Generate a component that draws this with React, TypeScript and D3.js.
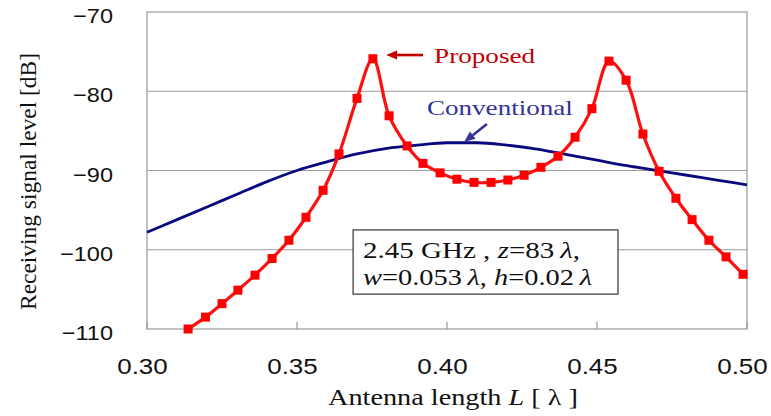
import React, { useRef, useEffect } from 'react';
import * as d3 from 'd3';

// Proposed antenna (red, square markers)
const proposedL = [
  0.3137, 0.3195, 0.325, 0.3303, 0.336, 0.3417, 0.3473, 0.353, 0.3587, 0.364,
  0.37, 0.3753, 0.3807, 0.3867, 0.392, 0.3977, 0.4033, 0.409, 0.4147, 0.4203,
  0.4257, 0.4313, 0.437, 0.4427, 0.4483, 0.454, 0.4597, 0.4653, 0.4707, 0.4763,
  0.4817, 0.4873, 0.493, 0.4987,
];
const proposedDb = [
  -110.0, -108.5, -106.8, -105.1, -103.2, -101.1, -98.8, -95.9, -92.5, -87.9,
  -80.9, -75.9, -83.1, -86.9, -89.1, -90.3, -91.1, -91.5, -91.5, -91.2,
  -90.6, -89.6, -88.2, -85.8, -82.2, -76.2, -78.6, -85.4, -90.1, -93.5,
  -96.2, -98.8, -100.9, -103.1,
];

// Conventional antenna (navy, smooth line)
const conventionalL = [
  0.3, 0.31, 0.32, 0.33, 0.34, 0.35, 0.36, 0.37, 0.38, 0.39, 0.4,
  0.41, 0.42, 0.43, 0.44, 0.45, 0.46, 0.47, 0.48, 0.49, 0.5,
];
const conventionalDb = [
  -97.8, -96.2, -94.6, -93.0, -91.4, -90.0, -88.9, -87.9, -87.2, -86.8, -86.5,
  -86.5, -86.8, -87.3, -88.0, -88.7, -89.4, -90.0, -90.6, -91.2, -91.8,
];

const xTicks = [0.3, 0.35, 0.4, 0.45, 0.5];
const yTicks = [-70, -80, -90, -100, -110];

const W = 771;
const H = 416;
const SERIF = '"Liberation Serif", "Times New Roman", serif';
const SANS = '"Liberation Sans", Arial, sans-serif';

// widen a text node to match the slightly stretched original
const stretch = (sel: any, k: number) => {
  sel.each(function (this: any) {
    const len = this.getComputedTextLength();
    d3.select(this).attr('textLength', len * k).attr('lengthAdjust', 'spacingAndGlyphs');
  });
};

const App = () => {
  const svgRef = useRef<SVGSVGElement>(null);

  useEffect(() => {
    if (!svgRef.current) return;
    const svg = d3.select(svgRef.current);
    svg.selectAll('*').remove();

    const x = d3.scaleLinear().domain([0.3, 0.5]).range([147, 747]);
    const y = d3.scaleLinear().domain([-110, -70]).range([329, 12]);

    svg.append('rect').attr('width', W).attr('height', H).attr('fill', '#fff');

    // grid lines
    svg.append('g')
      .selectAll('line')
      .data(yTicks.filter((t) => t !== -70 && t !== -110))
      .enter()
      .append('line')
      .attr('x1', x(0.3))
      .attr('x2', x(0.5))
      .attr('y1', (d) => y(d))
      .attr('y2', (d) => y(d))
      .attr('stroke', '#9a9a9a')
      .attr('stroke-width', 1.2);

    // plot frame
    svg.append('rect')
      .attr('x', x(0.3))
      .attr('y', y(-70))
      .attr('width', x(0.5) - x(0.3))
      .attr('height', y(-110) - y(-70))
      .attr('fill', 'none')
      .attr('stroke', '#9a9a9a')
      .attr('stroke-width', 1.2);

    // inner x ticks
    svg.append('g')
      .selectAll('line')
      .data(xTicks)
      .enter()
      .append('line')
      .attr('x1', (d) => x(d))
      .attr('x2', (d) => x(d))
      .attr('y1', y(-110))
      .attr('y2', y(-110) - 7)
      .attr('stroke', '#9a9a9a')
      .attr('stroke-width', 1.2);

    // tick labels
    svg.append('g')
      .selectAll('text')
      .data(xTicks)
      .enter()
      .append('text')
      .attr('x', (d) => x(d) - 4.5)
      .attr('y', 374)
      .attr('text-anchor', 'middle')
      .style('font-family', SANS)
      .style('font-size', '22px')
      .attr('fill', '#111')
      .text((d) => d3.format('.2f')(d))
      .call(stretch, 1.18);

    svg.append('g')
      .selectAll('text')
      .data(yTicks)
      .enter()
      .append('text')
      .attr('x', 113)
      .attr('y', (d) => y(d) + 11)
      .attr('text-anchor', 'end')
      .style('font-family', SANS)
      .style('font-size', '21px')
      .attr('fill', '#111')
      .text((d) => (d < 0 ? '\u2212' + Math.abs(d) : String(d)))
      .call(stretch, 1.12);

    // axis titles
    const xt = svg.append('text')
      .attr('x', 453)
      .attr('y', 405)
      .attr('text-anchor', 'middle')
      .style('font-family', SERIF)
      .style('font-size', '24px')
      .attr('fill', '#111')
      .attr('textLength', 250)
      .attr('lengthAdjust', 'spacingAndGlyphs');
    xt.append('tspan').text('Antenna length  ');
    xt.append('tspan').style('font-style', 'italic').text('L');
    xt.append('tspan').text(' [ \u03bb ]');

    svg.append('text')
      .attr('transform', 'translate(36,181.5) rotate(-90)')
      .attr('text-anchor', 'middle')
      .style('font-family', SERIF)
      .style('font-size', '23px')
      .attr('fill', '#111')
      .attr('textLength', 257)
      .attr('lengthAdjust', 'spacingAndGlyphs')
      .text('Receiving signal level [dB]');

    // conventional curve
    const convData = conventionalL.map((l, i) => ({ l, db: conventionalDb[i] }));
    svg.append('path')
      .datum(convData)
      .attr('fill', 'none')
      .attr('stroke', '#0a0a80')
      .attr('stroke-width', 2.8)
      .attr('d', d3.line<any>().x((d) => x(d.l)).y((d) => y(d.db)).curve(d3.curveMonotoneX));

    // proposed curve + markers
    const propData = proposedL.map((l, i) => ({ l, db: proposedDb[i] }));
    svg.append('path')
      .datum(propData)
      .attr('fill', 'none')
      .attr('stroke', '#ff1010')
      .attr('stroke-width', 3.2)
      .attr('stroke-linejoin', 'round')
      .attr('d', d3.line<any>().x((d) => x(d.l)).y((d) => y(d.db)).curve(d3.curveCatmullRom.alpha(0.5)));

    svg.append('g')
      .selectAll('rect')
      .data(propData)
      .enter()
      .append('rect')
      .attr('x', (d) => x(d.l) - 4.5)
      .attr('y', (d) => y(d.db) - 4.5)
      .attr('width', 9)
      .attr('height', 9)
      .attr('fill', '#ff0000');

    // arrow helper
    const arrow = (x1: number, y1: number, x2: number, y2: number, color: string) => {
      const ang = Math.atan2(y2 - y1, x2 - x1);
      const len = 11;
      const half = 4.5;
      const bx = x2 - len * Math.cos(ang);
      const by = y2 - len * Math.sin(ang);
      svg.append('line')
        .attr('x1', x1).attr('y1', y1).attr('x2', bx).attr('y2', by)
        .attr('stroke', color).attr('stroke-width', 2.6);
      svg.append('path')
        .attr('d', `M${x2},${y2}L${bx - half * Math.sin(ang)},${by + half * Math.cos(ang)}L${bx + half * Math.sin(ang)},${by - half * Math.cos(ang)}Z`)
        .attr('fill', color);
    };

    // Proposed label
    arrow(x(0.392), y(-75.43), x(0.3797), y(-75.43), '#c00000');
    svg.append('text')
      .attr('x', x(0.3957))
      .attr('y', y(-76.4))
      .style('font-family', SERIF)
      .style('font-size', '22px')
      .attr('fill', '#c00000')
      .attr('textLength', 101)
      .attr('lengthAdjust', 'spacingAndGlyphs')
      .text('Proposed');

    // Conventional label
    svg.append('text')
      .attr('x', x(0.3933))
      .attr('y', y(-83.0))
      .style('font-family', SERIF)
      .style('font-size', '21px')
      .attr('fill', '#333399')
      .attr('textLength', 146)
      .attr('lengthAdjust', 'spacingAndGlyphs')
      .text('Conventional');
    arrow(x(0.4133), y(-84.13), x(0.4057), y(-86.4), '#333399');

    // parameter box
    svg.append('rect')
      .attr('x', x(0.3687))
      .attr('y', y(-97.5))
      .attr('width', x(0.457) - x(0.3687))
      .attr('height', y(-105.6) - y(-97.5))
      .attr('fill', '#fff')
      .attr('stroke', '#333')
      .attr('stroke-width', 1.2);

    const line1 = svg.append('text')
      .attr('x', 363)
      .attr('y', 258)
      .style('font-family', SERIF)
      .style('font-size', '23px')
      .attr('fill', '#111')
      .attr('textLength', 217)
      .attr('lengthAdjust', 'spacingAndGlyphs');
    line1.append('tspan').text('2.45 GHz , ');
    line1.append('tspan').style('font-style', 'italic').text('z');
    line1.append('tspan').text('=83\u2009');
    line1.append('tspan').style('font-style', 'italic').text('\u03bb');
    line1.append('tspan').text(',');

    const line2 = svg.append('text')
      .attr('x', 363)
      .attr('y', 285)
      .style('font-family', SERIF)
      .style('font-size', '23px')
      .attr('fill', '#111')
      .attr('textLength', 229)
      .attr('lengthAdjust', 'spacingAndGlyphs');
    line2.append('tspan').style('font-style', 'italic').text('w');
    line2.append('tspan').text('=0.053\u2009');
    line2.append('tspan').style('font-style', 'italic').text('\u03bb');
    line2.append('tspan').text(', ');
    line2.append('tspan').style('font-style', 'italic').text('h');
    line2.append('tspan').text('=0.02\u2009');
    line2.append('tspan').style('font-style', 'italic').text('\u03bb');

    return () => {
      svg.selectAll('*').remove();
    };
  }, []);

  return (
    <svg
      ref={svgRef}
      width={W}
      height={H}
      viewBox={`0 0 ${W} ${H}`}
      style={{ position: 'absolute', left: 0, top: 0, display: 'block', background: '#fff' }}
    />
  );
};

export default App;
